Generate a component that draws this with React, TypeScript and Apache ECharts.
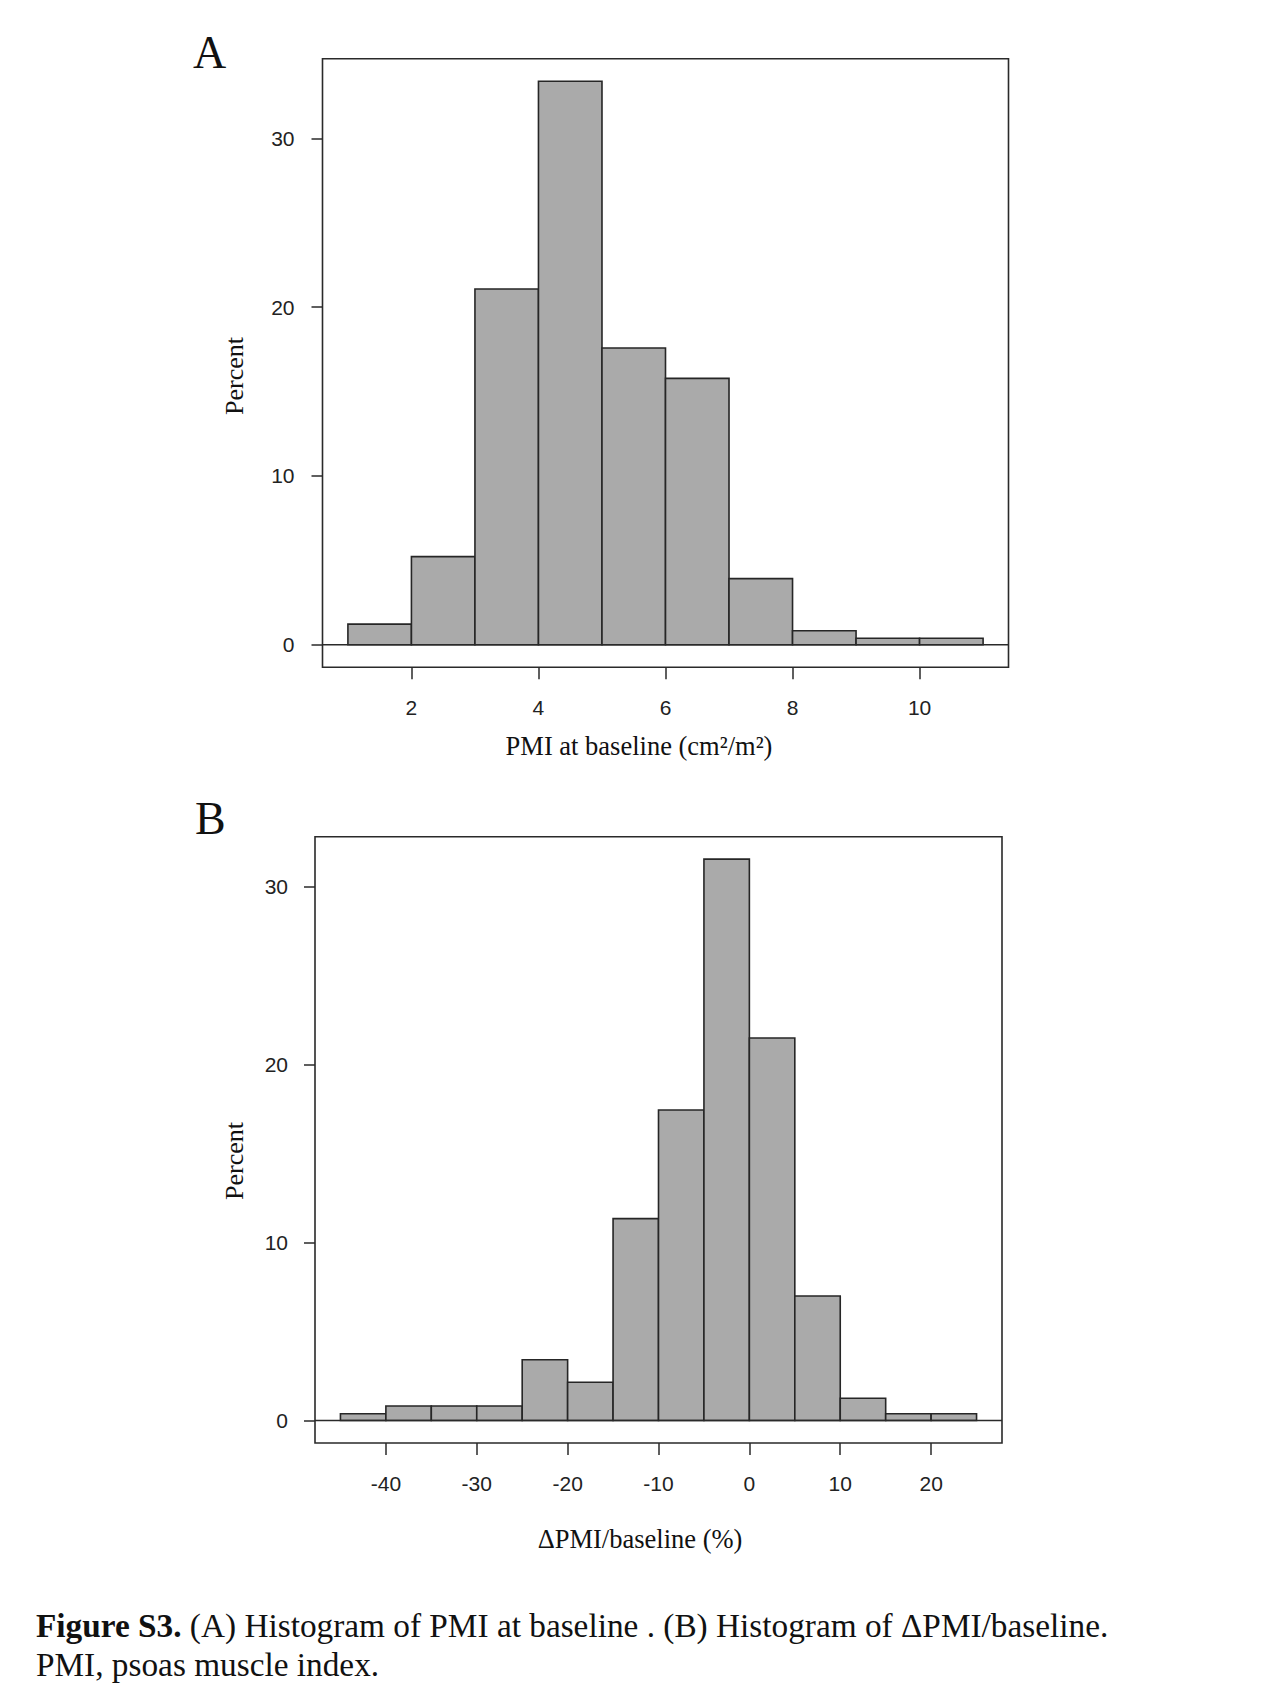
import React, { useEffect, useRef } from "react";
import * as echarts from "echarts";

// Panel A: PMI at baseline, bins of width 1 starting at 1
const pmiBinStarts = [1, 2, 3, 4, 5, 6, 7, 8, 9, 10];
const pmiBinWidth = 1;
const pmiPercent = [1.22, 5.22, 21.07, 33.38, 17.58, 15.78, 3.92, 0.83, 0.39, 0.39];
const pmiXTicks = [2, 4, 6, 8, 10];

// Panel B: relative change of PMI, bins of width 5 starting at -45
const deltaBinStarts = [-45, -40, -35, -30, -25, -20, -15, -10, -5, 0, 5, 10, 15, 20];
const deltaBinWidth = 5;
const deltaPercent = [0.38, 0.82, 0.82, 0.82, 3.42, 2.15, 11.35, 17.45, 31.55, 21.5, 7.0, 1.25, 0.38, 0.38];
const deltaXTicks = [-40, -30, -20, -10, 0, 10, 20];

const percentTicks = [0, 10, 20, 30];

const SERIF = "'Liberation Serif', 'Times New Roman', serif";
const SANS = "'Liberation Sans', Arial, sans-serif";
const INK = "#2a2a2a";

// R-style range: data range padded by 4% on each side
function padRange(lo: number, hi: number): [number, number] {
  const d = (hi - lo) * 0.04;
  return [lo - d, hi + d];
}

function histData(starts: number[], width: number, pct: number[]) {
  return starts.map((s, i) => [s, s + width, pct[i]]);
}

const renderBin = (_params: any, api: any) => {
  const topLeft = api.coord([api.value(0), api.value(2)]);
  const bottomRight = api.coord([api.value(1), 0]);
  return {
    type: "rect",
    shape: {
      x: topLeft[0],
      y: topLeft[1],
      width: bottomRight[0] - topLeft[0],
      height: bottomRight[1] - topLeft[1],
    },
    style: { fill: "#aaaaaa", stroke: "#262626", lineWidth: 1.6 },
  };
};

function xAxisFor(gridIndex: number, range: [number, number], ticks: number[]) {
  return {
    type: "value",
    gridIndex,
    position: "bottom",
    min: range[0],
    max: range[1],
    axisLine: { show: false, onZero: false },
    splitLine: { show: false },
    axisTick: {
      show: true,
      inside: false,
      customValues: ticks,
      length: 12,
      lineStyle: { color: INK, width: 1.5 },
    },
    axisLabel: {
      show: true,
      customValues: ticks,
      margin: 30,
      fontFamily: SANS,
      fontSize: 21,
      color: "#222",
    },
  };
}

function yAxisFor(gridIndex: number, maxPct: number, margin: number) {
  return {
    type: "value",
    gridIndex,
    position: "left",
    min: -maxPct * 0.04,
    max: maxPct * 1.04,
    axisLine: { show: false, onZero: false },
    splitLine: { show: false },
    axisTick: {
      show: true,
      inside: false,
      customValues: percentTicks,
      length: 11,
      lineStyle: { color: INK, width: 1.5 },
    },
    axisLabel: {
      show: true,
      customValues: percentTicks,
      margin,
      fontFamily: SANS,
      fontSize: 21,
      color: "#222",
    },
  };
}

export default function App() {
  const ref = useRef<HTMLDivElement>(null);

  useEffect(() => {
    if (!ref.current) return;
    const chart = echarts.init(ref.current, null, { renderer: "svg" });

    const pmiRange = padRange(pmiBinStarts[0], pmiBinStarts[pmiBinStarts.length - 1] + pmiBinWidth);
    const deltaRange = padRange(deltaBinStarts[0], deltaBinStarts[deltaBinStarts.length - 1] + deltaBinWidth);
    const pmiMax = Math.max(...pmiPercent);
    const deltaMax = Math.max(...deltaPercent);

    const gridBox = { show: true, borderColor: INK, borderWidth: 1.6, backgroundColor: "transparent" };

    chart.setOption({
      animation: false,
      backgroundColor: "#ffffff",
      grid: [
        { left: 322.5, top: 58.7, width: 686, height: 608.6, ...gridBox },
        { left: 315, top: 836.7, width: 687, height: 606.3, ...gridBox },
      ],
      xAxis: [xAxisFor(0, pmiRange, pmiXTicks), xAxisFor(1, deltaRange, deltaXTicks)],
      yAxis: [yAxisFor(0, pmiMax, 28), yAxisFor(1, deltaMax, 27)],
      series: [
        {
          type: "custom",
          xAxisIndex: 0,
          yAxisIndex: 0,
          renderItem: renderBin,
          encode: { x: [0, 1], y: 2 },
          data: histData(pmiBinStarts, pmiBinWidth, pmiPercent),
        },
        {
          type: "line",
          xAxisIndex: 0,
          yAxisIndex: 0,
          symbol: "none",
          silent: true,
          lineStyle: { color: INK, width: 1.6 },
          data: [
            [pmiRange[0], 0],
            [pmiRange[1], 0],
          ],
          z: 5,
        },
        {
          type: "custom",
          xAxisIndex: 1,
          yAxisIndex: 1,
          renderItem: renderBin,
          encode: { x: [0, 1], y: 2 },
          data: histData(deltaBinStarts, deltaBinWidth, deltaPercent),
        },
        {
          type: "line",
          xAxisIndex: 1,
          yAxisIndex: 1,
          symbol: "none",
          silent: true,
          lineStyle: { color: INK, width: 1.6 },
          data: [
            [deltaRange[0], 0],
            [deltaRange[1], 0],
          ],
          z: 5,
        },
      ],
      graphic: [
        {
          type: "text",
          x: 193,
          y: 52.5,
          style: { text: "A", font: `46px ${SERIF}`, fill: "#111", textAlign: "left", textVerticalAlign: "middle" },
        },
        {
          type: "text",
          x: 195,
          y: 818.5,
          style: { text: "B", font: `46px ${SERIF}`, fill: "#111", textAlign: "left", textVerticalAlign: "middle" },
        },
        {
          type: "text",
          x: 234,
          y: 376,
          rotation: Math.PI / 2,
          style: { text: "Percent", font: `26px ${SERIF}`, fill: "#111", textAlign: "center", textVerticalAlign: "middle" },
        },
        {
          type: "text",
          x: 234,
          y: 1161,
          rotation: Math.PI / 2,
          style: { text: "Percent", font: `26px ${SERIF}`, fill: "#111", textAlign: "center", textVerticalAlign: "middle" },
        },
        {
          type: "text",
          x: 639,
          y: 746,
          style: {
            text: "PMI at baseline (cm\u00b2/m\u00b2)",
            font: `26.5px ${SERIF}`,
            fill: "#111",
            textAlign: "center",
            textVerticalAlign: "middle",
          },
        },
        {
          type: "text",
          x: 640,
          y: 1539,
          style: {
            text: "\u0394PMI/baseline (%)",
            font: `26.5px ${SERIF}`,
            fill: "#111",
            textAlign: "center",
            textVerticalAlign: "middle",
          },
        },
        {
          type: "text",
          x: 36,
          y: 1625,
          style: {
            text: "{b|Figure S3.} (A) Histogram of PMI at baseline . (B) Histogram of \u0394PMI/baseline.",
            fontFamily: SERIF,
            fontSize: 33.3,
            fill: "#111",
            textAlign: "left",
            textVerticalAlign: "middle",
            rich: { b: { fontFamily: SERIF, fontSize: 33.3, fontWeight: "bold", fill: "#111" } },
          },
        },
        {
          type: "text",
          x: 36,
          y: 1664,
          style: {
            text: "PMI, psoas muscle index.",
            fontFamily: SERIF,
            fontSize: 33.3,
            fill: "#111",
            textAlign: "left",
            textVerticalAlign: "middle",
          },
        },
      ],
    });

    return () => chart.dispose();
  }, []);

  return (
    <div
      ref={ref}
      style={{ position: "absolute", left: 0, top: 0, width: 1280, height: 1707, background: "#fff" }}
    />
  );
}
